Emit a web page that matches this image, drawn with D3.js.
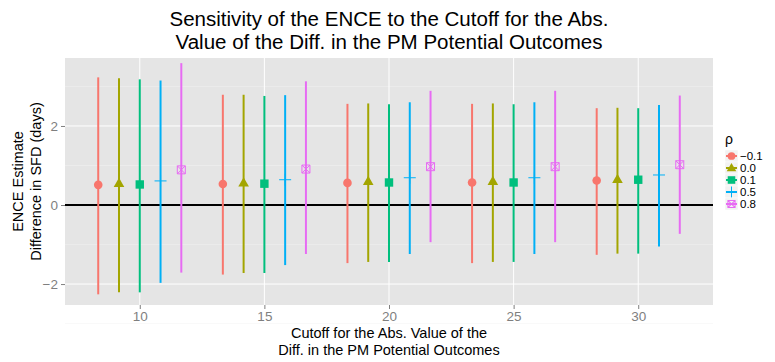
<!DOCTYPE html>
<html>
<head>
<meta charset="utf-8">
<script src="https://cdn.jsdelivr.net/npm/d3@7"></script>
<style>
  body { margin: 0; background: #fff; }
  text { font-family: "Liberation Sans", Arial, sans-serif; }
</style>
</head>
<body>
<div id="chart"></div>
<script>
// data
var cutoffs = [10, 15, 20, 25, 30];
var rhoLabels = ["\u22120.1", "0.0", "0.1", "0.5", "0.8"];
var colors = ["#F8766D", "#A3A500", "#00BF7D", "#00B0F6", "#E76BF3"];

// estimate, lower and upper bound for each rho (one value per cutoff)
var estNeg01 = [0.51, 0.53, 0.56, 0.57, 0.62];
var loNeg01 = [-2.26, -1.76, -1.47, -1.47, -1.26];
var hiNeg01 = [3.23, 2.79, 2.56, 2.56, 2.45];

var est00 = [0.55, 0.56, 0.60, 0.60, 0.65];
var lo00 = [-2.21, -1.72, -1.44, -1.44, -1.23];
var hi00 = [3.21, 2.79, 2.57, 2.57, 2.46];

var est01 = [0.52, 0.54, 0.57, 0.57, 0.64];
var lo01 = [-2.21, -1.72, -1.44, -1.44, -1.23];
var hi01 = [3.18, 2.76, 2.55, 2.55, 2.45];

var est05 = [0.61, 0.64, 0.69, 0.69, 0.76];
var lo05 = [-1.97, -1.52, -1.24, -1.24, -1.05];
var hi05 = [3.15, 2.78, 2.60, 2.60, 2.53];

var est08 = [0.89, 0.91, 0.97, 0.97, 1.02];
var lo08 = [-1.71, -1.24, -0.94, -0.94, -0.73];
var hi08 = [3.59, 3.13, 2.89, 2.89, 2.77];

var xTicks = [10, 15, 20, 25, 30];
var yTicks = [-2, 0, 2];
var yMinor = [-3, -1, 1, 3];

var series = [
  { est: estNeg01, lo: loNeg01, hi: hiNeg01 },
  { est: est00, lo: lo00, hi: hi00 },
  { est: est01, lo: lo01, hi: hi01 },
  { est: est05, lo: lo05, hi: hi05 },
  { est: est08, lo: lo08, hi: hi08 }
];

var rows = [];
series.forEach(function (s, i) {
  cutoffs.forEach(function (c, j) {
    rows.push({ group: i, cutoff: c, est: s.est[j], lo: s.lo[j], hi: s.hi[j] });
  });
});

var W = 775, H = 362;
var panel = { left: 65, right: 713, top: 58, bottom: 305 };
var dodge = 5 / 6;
var midX = (panel.left + panel.right) / 2;

var svg = d3.select("#chart").append("svg")
  .attr("width", W)
  .attr("height", H);

var x = d3.scaleLinear().domain([7, 33]).range([panel.left, panel.right]);
var y = d3.scaleLinear().domain([-2.53, 3.72]).range([panel.bottom, panel.top]);

// panel background
svg.append("rect")
  .attr("x", panel.left).attr("y", panel.top)
  .attr("width", panel.right - panel.left)
  .attr("height", panel.bottom - panel.top)
  .attr("fill", "#E5E5E5");

// minor grid
svg.selectAll(".yminor").data(yMinor).enter().append("line")
  .attr("x1", panel.left).attr("x2", panel.right)
  .attr("y1", function (d) { return y(d); })
  .attr("y2", function (d) { return y(d); })
  .attr("stroke", "#F2F2F2").attr("stroke-width", 0.5);

// major grid
svg.selectAll(".ymajor").data(yTicks).enter().append("line")
  .attr("x1", panel.left).attr("x2", panel.right)
  .attr("y1", function (d) { return y(d); })
  .attr("y2", function (d) { return y(d); })
  .attr("stroke", "#fff").attr("stroke-width", 1);
svg.selectAll(".xmajor").data(xTicks).enter().append("line")
  .attr("y1", panel.top).attr("y2", panel.bottom)
  .attr("x1", function (d) { return x(d); })
  .attr("x2", function (d) { return x(d); })
  .attr("stroke", "#fff").attr("stroke-width", 1);

// zero line
svg.append("line")
  .attr("x1", panel.left).attr("x2", panel.right)
  .attr("y1", y(0)).attr("y2", y(0))
  .attr("stroke", "#000").attr("stroke-width", 2);

// axes
var xAxis = svg.append("g")
  .attr("transform", "translate(0," + panel.bottom + ")")
  .call(d3.axisBottom(x).tickValues(xTicks).tickSize(4).tickPadding(2));
var yAxis = svg.append("g")
  .attr("transform", "translate(" + panel.left + ",0)")
  .call(d3.axisLeft(y).tickValues(yTicks).tickSize(4).tickPadding(3)
    .tickFormat(function (d) { return d < 0 ? "\u2212" + Math.abs(d) : d; }));
[xAxis, yAxis].forEach(function (a) {
  a.select(".domain").remove();
  a.selectAll(".tick line").attr("stroke", "#7F7F7F");
  a.selectAll(".tick text").attr("fill", "#7F7F7F")
    .style("font-size", "13.5px")
    .style("font-family", "Liberation Sans, Arial, sans-serif");
});

// error bars
var px = function (d) { return x(d.cutoff + (d.group - 2) * dodge); };
svg.selectAll(".bar").data(rows).enter().append("line")
  .attr("x1", px).attr("x2", px)
  .attr("y1", function (d) { return y(d.lo); })
  .attr("y2", function (d) { return y(d.hi); })
  .attr("stroke", function (d) { return colors[d.group]; })
  .attr("stroke-width", 2);

// point shapes: circle, triangle, square, plus, boxed cross
function drawShape(g, type, col, k) {
  k = k || 1;
  if (type === 0) {
    g.append("circle").attr("r", 4.3 * k).attr("fill", col);
  } else if (type === 1) {
    g.append("path").attr("d", "M0,-5.6L5.3,3.6L-5.3,3.6Z")
      .attr("transform", "scale(" + k + ")").attr("fill", col);
  } else if (type === 2) {
    g.append("rect").attr("x", -4.2 * k).attr("y", -4.2 * k)
      .attr("width", 8.4 * k).attr("height", 8.4 * k).attr("fill", col);
  } else if (type === 3) {
    g.append("path").attr("d", "M-6,0H6M0,-6V6").attr("transform", "scale(" + k + ")")
      .attr("stroke", col).attr("stroke-width", 1 / k).attr("fill", "none");
  } else {
    g.append("path").attr("d", "M-4,-4H4V4H-4ZM-4,-4L4,4M4,-4L-4,4")
      .attr("transform", "scale(" + k + ")")
      .attr("stroke", col).attr("stroke-width", 1 / k).attr("fill", "none");
  }
}

svg.selectAll(".pt").data(rows).enter().append("g")
  .attr("transform", function (d) { return "translate(" + px(d) + "," + y(d.est) + ")"; })
  .each(function (d) { drawShape(d3.select(this), d.group, colors[d.group]); });

// titles
var title = svg.append("text")
  .attr("text-anchor", "middle")
  .style("font-size", "20px");
title.append("tspan").attr("x", midX).attr("y", 26)
  .attr("textLength", 439).attr("lengthAdjust", "spacingAndGlyphs")
  .text("Sensitivity of the ENCE to the Cutoff for the Abs.");
title.append("tspan").attr("x", midX).attr("y", 49)
  .attr("textLength", 427).attr("lengthAdjust", "spacingAndGlyphs")
  .text("Value of the Diff. in the PM Potential Outcomes");

var xt = svg.append("text")
  .attr("text-anchor", "middle")
  .style("font-size", "14.5px");
xt.append("tspan").attr("x", midX).attr("y", 338)
  .text("Cutoff for the Abs. Value of the");
xt.append("tspan").attr("x", midX).attr("y", 355)
  .text("Diff. in the PM Potential Outcomes");

var cy = (panel.top + panel.bottom) / 2;
var yt = svg.append("text")
  .attr("text-anchor", "middle")
  .attr("transform", "rotate(-90)")
  .style("font-size", "14.5px");
yt.append("tspan").attr("x", -cy).attr("y", 23).text("ENCE Estimate");
yt.append("tspan").attr("x", -cy).attr("y", 41).text("Difference in SFD (days)");

// legend
var leg = svg.append("g").attr("transform", "translate(725,0)");
leg.append("text").attr("x", 0).attr("y", 144).style("font-size", "14px").text("\u03C1");
rhoLabels.forEach(function (lab, i) {
  var ky = 150 + i * 12;
  var k = leg.append("g").attr("transform", "translate(0," + ky + ")");
  k.append("rect").attr("width", 13).attr("height", 12)
    .attr("fill", "#F2F2F2").attr("stroke", "#fff").attr("stroke-width", 0.5);
  k.append("line").attr("x1", 1).attr("x2", 12).attr("y1", 6).attr("y2", 6)
    .attr("stroke", colors[i]).attr("stroke-width", 2);
  var g = k.append("g").attr("transform", "translate(6.5,6)");
  drawShape(g, i, colors[i], 0.9);
  k.append("text").attr("x", 15).attr("y", 10.3).style("font-size", "11.5px").text(lab);
});
</script>
</body>
</html>
